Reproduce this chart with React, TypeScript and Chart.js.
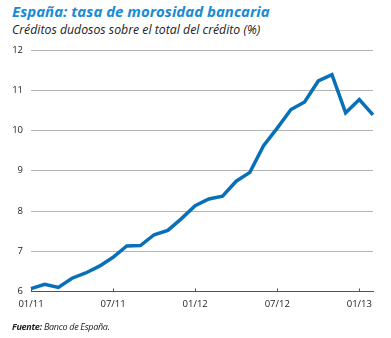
import React, { useEffect, useRef } from "react";
import { Chart, registerables } from "chart.js";

Chart.register(...registerables);

const months: string[] = [
  "01/11", "02/11", "03/11", "04/11", "05/11", "06/11", "07/11", "08/11", "09/11", "10/11", "11/11", "12/11",
  "01/12", "02/12", "03/12", "04/12", "05/12", "06/12", "07/12", "08/12", "09/12", "10/12", "11/12", "12/12",
  "01/13", "02/13",
];
const morosidad: number[] = [
  6.07, 6.18, 6.1, 6.33, 6.46, 6.63, 6.85, 7.13, 7.14, 7.41, 7.52, 7.81,
  8.13, 8.3, 8.37, 8.74, 8.96, 9.62, 10.06, 10.52, 10.71, 11.23, 11.39, 10.44,
  10.77, 10.39,
];
const shownTicks: string[] = ["01/11", "07/11", "01/12", "07/12", "01/13"];
const yMin = 6;
const yMax = 12;

const FONT = "'Open Sans', 'Noto Sans', sans-serif";

const innerTicks = {
  id: "innerTicks",
  afterDraw(chart: any) {
    const x = chart.scales.x;
    const ctx = chart.ctx;
    const bottom = chart.chartArea.bottom;
    ctx.save();
    ctx.strokeStyle = "#555555";
    ctx.lineWidth = 1;
    months.forEach((m, i) => {
      if (shownTicks.includes(m)) {
        const px = Math.round(x.getPixelForValue(i)) + 0.5;
        ctx.beginPath();
        ctx.moveTo(px, bottom - 3);
        ctx.lineTo(px, bottom);
        ctx.stroke();
      }
    });
    ctx.restore();
  },
};

export default function App() {
  const ref = useRef<HTMLCanvasElement | null>(null);
  useEffect(() => {
    if (!ref.current) return;
    const chart = new Chart(ref.current, {
      type: "line",
      data: {
        labels: months,
        datasets: [
          {
            data: morosidad,
            borderColor: "#0870b8",
            borderWidth: 3.5,
            pointRadius: 0,
            tension: 0,
            fill: false,
            borderJoinStyle: "miter",
          },
        ],
      },
      options: {
        animation: false,
        responsive: false,
        layout: { padding: { left: 0, right: 18, top: 50, bottom: 0 } },
        plugins: { legend: { display: false }, tooltip: { enabled: false } },
        scales: {
          x: {
            type: "category",
            offset: false,
            afterFit: (s: any) => {
              s.height = 46.5;
            },
            grid: { display: false, drawTicks: false },
            border: { display: true, color: "#555555", width: 1 },
            ticks: {
              autoSkip: false,
              maxRotation: 0,
              padding: 7,
              color: "#222222",
              font: { family: FONT, size: 9.5 },
              callback: (_v: any, i: number) => (shownTicks.includes(months[i]) ? months[i] : null),
            },
          },
          y: {
            min: yMin,
            max: yMax,
            afterFit: (s: any) => {
              s.width = 31;
            },
            grid: { color: "#b4b4b4", lineWidth: 1, drawTicks: false },
            border: { display: false },
            ticks: {
              stepSize: 1,
              padding: 8,
              color: "#222222",
              font: { family: FONT, size: 9.5 },
            },
          },
        },
      },
      plugins: [innerTicks],
    });
    return () => chart.destroy();
  }, []);

  return (
    <div style={{ position: "fixed", left: 0, top: 0, width: 391, height: 338, background: "#fff" }}>
      <div
        style={{
          position: "absolute",
          left: 12,
          top: 3,
          fontFamily: FONT,
          fontStyle: "italic",
          fontWeight: 700,
          fontSize: 15,
          lineHeight: "17px",
          color: "#1a8bd3",
          whiteSpace: "nowrap",
        }}
      >
        España: tasa de morosidad bancaria
      </div>
      <div
        style={{
          position: "absolute",
          left: 12,
          top: 23,
          fontFamily: FONT,
          fontStyle: "italic",
          fontSize: 12.3,
          lineHeight: "14px",
          color: "#222222",
          whiteSpace: "nowrap",
        }}
      >
        Créditos dudosos sobre el total del crédito (%)
      </div>
      <canvas ref={ref} width={391} height={338} style={{ position: "absolute", left: 0, top: 0 }} />
      <div
        style={{
          position: "absolute",
          left: 12,
          top: 321,
          fontFamily: FONT,
          fontStyle: "italic",
          fontSize: 9,
          letterSpacing: "-0.3px",
          lineHeight: "11px",
          color: "#222222",
          whiteSpace: "nowrap",
        }}
      >
        <b>Fuente:</b> Banco de España.
      </div>
    </div>
  );
}
